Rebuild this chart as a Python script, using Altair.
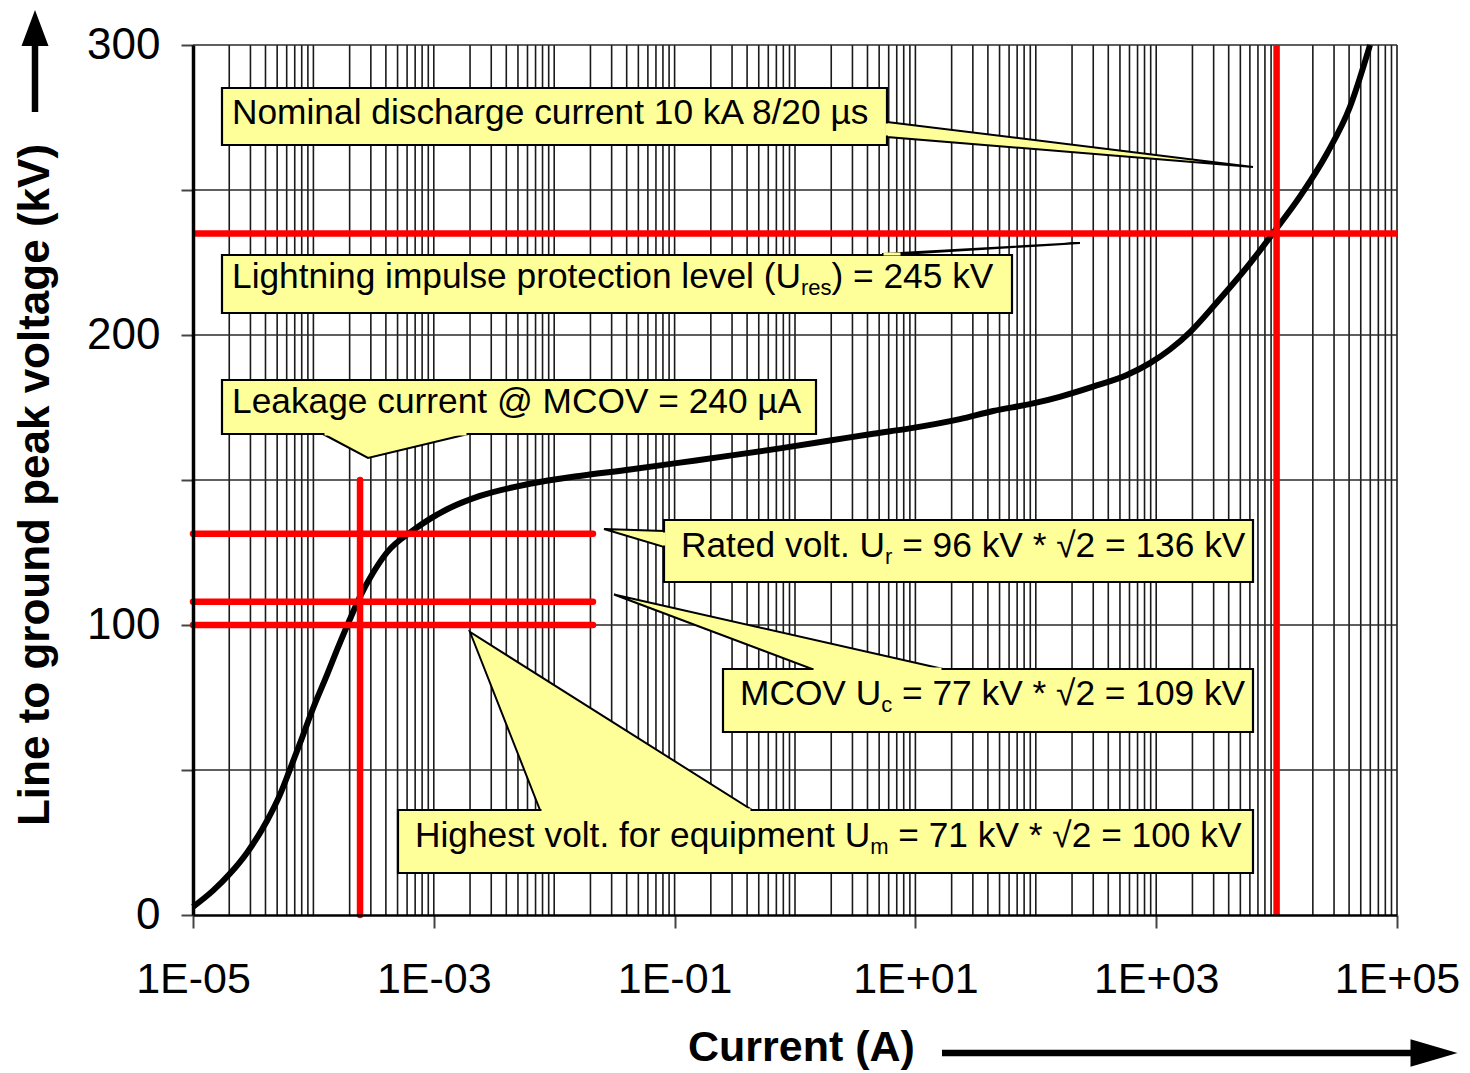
import altair as alt
import pandas as pd

# ---------------- data ----------------
current_A = [1.0e-5, 1.466e-5, 2.03e-5, 2.81e-5, 4.12e-5, 5.28e-5, 6.40e-5, 8.2e-5,
             9.92e-5, 1.297e-4, 1.57e-4, 2.01e-4, 2.44e-4, 3.13e-4, 4.08e-4, 6.71e-4,
             9.29e-4, 1.29e-3, 2.42e-3, 6.3e-3, 1.62e-2, 4.27e-2, 0.111, 0.288, 0.75,
             1.95, 4.2, 9.0, 23.4, 44.2, 94.8, 158, 299, 571, 887, 1300, 1910, 3200,
             6010, 9330, 15600, 26200, 40700, 59700]
voltage_kV = [2.8, 8.4, 14.3, 21.5, 32.5, 41.5, 50.3, 62.0,
              71.2, 82.8, 91.4, 102.0, 109.8, 118.0, 125.0, 132.6,
              136.6, 139.9, 144.5, 148.7, 151.4, 153.6, 156.0, 158.4, 160.9,
              163.6, 165.8, 167.8, 171.0, 173.8, 176.4, 178.7, 182.2, 186.2, 190.3, 195.0, 201.0, 211.3,
              224.7, 235.1, 247.7, 262.6, 278.7, 300.0]

ures_kV = 235.0          # red horizontal (protection level)
nominal_A = 1.0e4        # red vertical (10 kA)
leak_A = 2.44e-4         # red vertical (leakage current)
leak_top_kV = 150.0
short_levels_kV = [131.5, 108.0, 100.0]
short_end_A = 0.021

x_ticks = [1e-5, 1e-3, 1e-1, 1e1, 1e3, 1e5]
y_ticks = [0, 50, 100, 150, 200, 250, 300]
grid_y = [50, 100, 150, 200, 250, 300]
grid_x = [k * 10.0 ** d for d in range(-5, 5) for k in range(1, 10)] + [1e5]

x_title = "Current (A)"
y_title = "Line to ground peak voltage (kV)"

# callout texts: (text, is_subscript)
callout_texts = [
    [("Nominal discharge current 10 kA 8/20 µs", False)],
    [("Lightning impulse protection level (U", False), ("res", True), (") = 245 kV", False)],
    [("Leakage current @ MCOV = 240 µA", False)],
    [("Rated volt. U", False), ("r", True), (" = 96 kV * √2 = 136 kV", False)],
    [("MCOV U", False), ("c", True), (" = 77 kV * √2 = 109 kV", False)],
    [("Highest volt. for equipment U", False), ("m", True), (" = 71 kV * √2 = 100 kV", False)],
]

# ---------------- layout (reference picture frame) ----------------
W, H = 1204, 870
X0, Y0 = 193, 45     # page position of plot origin


def xd(px):
    return 10 ** (-5 + 10.0 * (px - X0) / W)


def yd(py):
    return 300.0 * (1 - (py - Y0) / H)


# boxes: left, top, right, bottom (page px)
box_px = [(222, 88, 887, 145), (222, 255, 1012, 313), (222, 380, 816, 434),
          (664, 520, 1253, 582), (723, 669, 1253, 732), (398, 810, 1253, 873)]
# text start (x) and baseline (y)
text_px = [(232, 124), (232, 288), (232, 413), (681, 557), (740, 705), (415, 847)]
# wedges with base on a vertical box edge: (id, x, y, y2)
wedge_v_px = [("nom", 887, 122, 137), ("nom", 1253, 167, 167),
              ("rat", 604, 529, 529), ("rat", 664, 531, 547)]
# wedges with base on a horizontal box edge: (id, y, x, x2)
wedge_h_px = [("lip", 243, 1080, 1080), ("lip", 254, 882, 902),
              ("lea", 434, 323, 468), ("lea", 458, 368, 368),
              ("mco", 594.5, 614, 614), ("mco", 669, 812, 943),
              ("hig", 632, 470, 470), ("hig", 810, 540, 752)]

FONT = "Liberation Sans"
FS, FS_SUB, SUB_DROP = 35.3, 22, 7
YELLOW = "#ffff99"

AW = dict(zip("ABCDEFGHIJKLMNOPQRSTUVWXYZ",
              [667, 667, 722, 722, 667, 611, 778, 722, 278, 500, 667, 556, 833, 722, 778, 667,
               778, 722, 667, 611, 722, 667, 944, 667, 667, 611]))
AW.update(dict(zip("abcdefghijklmnopqrstuvwxyz",
                   [556, 556, 500, 556, 556, 278, 556, 556, 222, 222, 500, 222, 833, 556, 556, 556,
                    556, 333, 500, 278, 556, 500, 722, 500, 500, 500])))
AW.update({c: 556 for c in "0123456789"})
AW.update({" ": 278, "(": 333, ")": 333, "*": 389, ".": 278, "/": 278, "=": 584, "@": 1015,
           "µ": 576, "√": 549, "-": 333, "+": 584})


def tw(s, fs):
    return sum(AW.get(c, 556) for c in s) * fs / 1000.0


main_rows, sub_rows = [], []
for parts, (tx, tb) in zip(callout_texts, text_px):
    x = tx
    for txt, sub in parts:
        fs = FS_SUB if sub else FS
        stripped = txt.lstrip(" ")
        x += tw(txt[: len(txt) - len(stripped)], fs)
        row = dict(t=stripped, x=xd(x), y=yd(tb + (SUB_DROP if sub else 0)))
        (sub_rows if sub else main_rows).append(row)
        x += tw(stripped, fs)

boxes_df = pd.DataFrame([dict(x1=xd(a), x2=xd(c), y1=yd(b), y2=yd(d)) for a, b, c, d in box_px])
wv_df = pd.DataFrame([dict(id=i, x=xd(x), y=yd(y), y2=yd(y2)) for i, x, y, y2 in wedge_v_px])
wh_df = pd.DataFrame([dict(id=i, y=yd(y), x=xd(x), x2=xd(x2)) for i, y, x, x2 in wedge_h_px])

# yellow covers that open the box border where a wedge joins
cov = []
for i, x, y, y2 in wedge_v_px:
    if y2 - y > 2:
        cov.append(dict(x1=xd(x), x2=xd(x), y1=yd(y + 1.5), y2=yd(y2 - 1.5)))
for i, y, x, x2 in wedge_h_px:
    if x2 - x > 2:
        cov.append(dict(x1=xd(x + 1.5), x2=xd(x2 - 1.5), y1=yd(y), y2=yd(y)))
cov_df = pd.DataFrame(cov)

# ---------------- chart ----------------
XS = alt.Scale(type="log", domain=[1e-5, 1e5], nice=False)
YS = alt.Scale(domain=[0, 300], nice=False, zero=False)

exp_ = "round(log(datum.value)/LN10)"
xaxis = alt.Axis(values=x_ticks,
                 labelExpr="'1E' + (" + exp_ + " < 0 ? '-' : '+') + (abs(" + exp_ + ") < 10 ? '0' : '') + abs(" + exp_ + ")",
                 labelFont=FONT, labelFontSize=43, labelColor="black", labelPadding=30,
                 labelFlush=False, labelOverlap=False,
                 tickSize=13, tickColor="#444444", tickWidth=2,
                 domainColor="black", domainWidth=2.5, grid=False, title=None, zindex=1)
yaxis = alt.Axis(values=y_ticks, labelExpr="datum.value % 100 === 0 ? datum.label : ''",
                 labelFont=FONT, labelFontSize=44, labelColor="black", labelPadding=21,
                 labelOverlap=False,
                 tickSize=12, tickColor="#444444", tickWidth=2,
                 domainColor="black", domainWidth=3.5, grid=False, title=None, zindex=1)


def X(f, **kw):
    return alt.X(f, scale=XS, axis=xaxis, **kw)


def Y(f, **kw):
    return alt.Y(f, scale=YS, axis=yaxis, **kw)


one = pd.DataFrame({"a": [0]})
curve_df = pd.DataFrame({"I": current_A, "U": voltage_kV})

# invisible layer carrying both axes (first layer)
axes_layer = alt.Chart(curve_df).mark_point(opacity=0).encode(x=X("I:Q"), y=Y("U:Q"))

vgrid = alt.Chart(pd.DataFrame({"g": grid_x})).mark_rule(color="#1a1a1a", strokeWidth=1.6).encode(
    x=X("g:Q"), y=alt.value(0), y2=alt.value(H))
hgrid = alt.Chart(pd.DataFrame({"g": grid_y})).mark_rule(color="#2a2a2a", strokeWidth=1.6).encode(
    y=Y("g:Q"), x=alt.value(0), x2=alt.value(W))

curve = alt.Chart(curve_df).mark_line(
    color="black", strokeWidth=6, interpolate="monotone").encode(x=X("I:Q"), y=Y("U:Q"))

red_full_df = pd.DataFrame({"x1": [1e-5, nominal_A], "x2": [1e5, nominal_A],
                            "y1": [ures_kV, 0.0], "y2": [ures_kV, 300.0]})
red_part_df = pd.DataFrame({"x1": [leak_A] + [1e-5] * len(short_levels_kV),
                            "x2": [leak_A] + [short_end_A] * len(short_levels_kV),
                            "y1": [0.0] + short_levels_kV,
                            "y2": [leak_top_kV] + short_levels_kV})
red_full = alt.Chart(red_full_df).mark_rule(color="#ff0000", strokeWidth=6.5).encode(
    x=X("x1:Q"), x2="x2:Q", y=Y("y1:Q"), y2="y2:Q")
red_part = alt.Chart(red_part_df).mark_rule(color="#ff0000", strokeWidth=6.5, strokeCap="round").encode(
    x=X("x1:Q"), x2="x2:Q", y=Y("y1:Q"), y2="y2:Q")

boxes = alt.Chart(boxes_df).mark_rect(fill=YELLOW, stroke="black", strokeWidth=2.2).encode(
    x=X("x1:Q"), x2="x2:Q", y=Y("y1:Q"), y2="y2:Q")
wedge_v = alt.Chart(wv_df).mark_area(orient="vertical", fill=YELLOW, stroke="black", strokeWidth=2,
                                     fillOpacity=1).encode(
    x=X("x:Q"), y=Y("y:Q", stack=None), y2="y2:Q", detail="id:N")
wedge_h = alt.Chart(wh_df).mark_area(orient="horizontal", fill=YELLOW, stroke="black", strokeWidth=2,
                                     fillOpacity=1).encode(
    y=Y("y:Q"), x=X("x:Q", stack=None), x2="x2:Q", detail="id:N")
covers = alt.Chart(cov_df).mark_rule(color=YELLOW, strokeWidth=3).encode(
    x=X("x1:Q"), x2="x2:Q", y=Y("y1:Q"), y2="y2:Q")

txt_main = alt.Chart(pd.DataFrame(main_rows)).mark_text(
    font=FONT, fontSize=FS, align="left", baseline="alphabetic", color="black").encode(
    x=X("x:Q"), y=Y("y:Q"), text="t:N")
txt_sub = alt.Chart(pd.DataFrame(sub_rows)).mark_text(
    font=FONT, fontSize=FS_SUB, align="left", baseline="alphabetic", color="black").encode(
    x=X("x:Q"), y=Y("y:Q"), text="t:N")

ytitle = alt.Chart(one).mark_text(text=y_title, angle=270, font=FONT, fontSize=44, fontWeight="bold",
                                  align="center", baseline="middle", color="black").encode(
    x=alt.value(-157), y=alt.value(440))
xtitle = alt.Chart(one).mark_text(text=x_title, font=FONT, fontSize=43, fontWeight="bold",
                                  align="left", baseline="alphabetic", color="black").encode(
    x=alt.value(495), y=alt.value(1016))

y_shaft = alt.Chart(one).mark_rule(color="black", strokeWidth=6.5).encode(
    x=alt.value(-158), y=alt.value(-5), y2=alt.value(67))
x_shaft = alt.Chart(one).mark_rule(color="black", strokeWidth=6.5).encode(
    x=alt.value(749), x2=alt.value(1235), y=alt.value(1008))
y_head = alt.Chart(one).mark_point(shape="M0,-1L0.75,1L-0.75,1Z", size=1296, filled=True,
                                   color="black", opacity=1, strokeWidth=0).encode(
    x=alt.value(-158), y=alt.value(-17))
x_head = alt.Chart(one).mark_point(shape="M1,0L-1,-0.58L-1,0.58Z", size=2209, filled=True,
                                   color="black", opacity=1, strokeWidth=0).encode(
    x=alt.value(1241), y=alt.value(1008))

chart = alt.layer(
    axes_layer, vgrid, hgrid, curve, red_full, red_part, boxes, wedge_v, wedge_h, covers,
    txt_main, txt_sub, ytitle, xtitle, y_shaft, x_shaft, y_head, x_head
).properties(
    width=W, height=H,
    padding={"left": 185, "top": 37, "right": 64, "bottom": 160},
    autosize=alt.AutoSizeParams(type="none"),
).configure_view(stroke=None)

chart.save("out.html", embed_options={"renderer": "svg", "actions": False})
